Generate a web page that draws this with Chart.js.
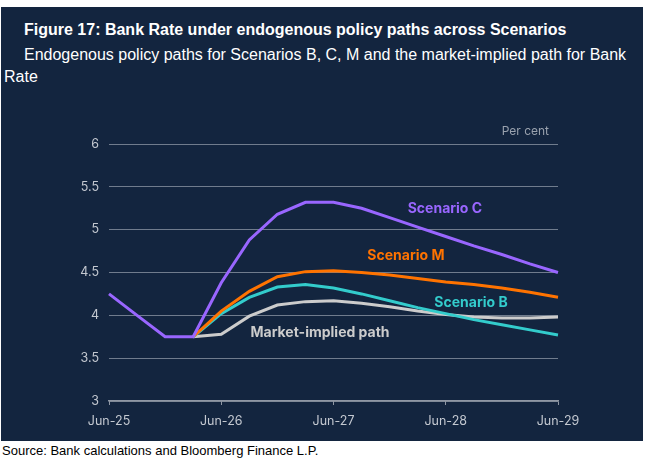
<!DOCTYPE html>
<html>
<head>
<meta charset="utf-8">
<script src="https://cdn.jsdelivr.net/npm/chart.js@4"></script>
<style>
  body { margin: 0; background: #fff; width: 646px; height: 463px; position: relative; overflow: hidden; font-family: "Liberation Sans", Arial, sans-serif; }
  #panel { position: absolute; left: 1px; top: 7px; width: 642px; height: 434px; background: #13253f; }
  #title { position: absolute; left: 24px; top: 21px; color: #fff; font-size: 16px; font-weight: bold; white-space: nowrap; }
  #sub { position: absolute; left: 4px; top: 44px; width: 632px; color: #fff; font-size: 16px; line-height: 22px; text-indent: 20px; }
  #wrap { position: absolute; left: 0; top: 101px; width: 646px; height: 340px; }
  #source { position: absolute; left: 2px; top: 443px; font-size: 13px; color: #000; }
</style>
</head>
<body>
<div id="panel"></div>
<div id="title">Figure 17: Bank Rate under endogenous policy paths across Scenarios</div>
<div id="sub">Endogenous policy paths for Scenarios B, C, M and the market-implied path for Bank Rate</div>
<div id="wrap"><canvas id="chart"></canvas></div>
<div id="source">Source: Bank calculations and Bloomberg Finance L.P.</div>
<script>
const quarters = ['Jun-25','Sep-25','Dec-25','Mar-26','Jun-26','Sep-26','Dec-26','Mar-27','Jun-27',
  'Sep-27','Dec-27','Mar-28','Jun-28','Sep-28','Dec-28','Mar-29','Jun-29'];

const scenarioC = [4.25, 4.00, 3.75, 3.75, 4.38, 4.88, 5.18, 5.32, 5.32, 5.25, 5.14, 5.03, 4.92, 4.81, 4.71, 4.60, 4.50];
const scenarioM = [null, null, null, 3.75, 4.05, 4.28, 4.45, 4.51, 4.52, 4.50, 4.47, 4.43, 4.39, 4.36, 4.32, 4.27, 4.21];
const scenarioB = [null, null, null, 3.75, 4.02, 4.21, 4.33, 4.36, 4.32, 4.25, 4.17, 4.09, 4.02, 3.95, 3.89, 3.83, 3.77];
const marketPath = [null, null, null, 3.75, 3.78, 3.99, 4.12, 4.16, 4.17, 4.14, 4.10, 4.05, 4.01, 3.98, 3.97, 3.97, 3.98];

const yTicks = [3, 3.5, 4, 4.5, 5, 5.5, 6];

const colC = '#9966ff';
const colM = '#ff7300';
const colB = '#33cccc';
const colMkt = '#cccccc';
const tickCol = '#c3c8d0';
const gridCol = 'rgba(190,196,206,0.55)';

// text labels on the lines, anchored at (category index, value)
const lineLabels = [
  { text: 'Scenario C', color: colC, at: [11.97, 5.24] },
  { text: 'Scenario M', color: colM, at: [10.58, 4.69] },
  { text: 'Scenario B', color: colB, at: [12.9, 4.15] },
  { text: 'Market-implied path', color: colMkt, at: [7.52, 3.80] }
];

const labelPlugin = {
  id: 'lineLabels',
  afterDatasetsDraw(chart) {
    const { ctx, scales: { x, y }, chartArea } = chart;
    ctx.save();
    ctx.font = 'bold 14px Inter, "Open Sans", sans-serif';
    ctx.textAlign = 'center';
    ctx.textBaseline = 'middle';
    lineLabels.forEach(l => {
      const px = x.getPixelForValue(0) + (x.getPixelForValue(1) - x.getPixelForValue(0)) * l.at[0];
      ctx.fillStyle = l.color;
      ctx.fillText(l.text, px, y.getPixelForValue(l.at[1]));
    });
    ctx.font = '12px Inter, "Open Sans", sans-serif';
    ctx.fillStyle = '#9aa2ae';
    ctx.textAlign = 'right';
    ctx.fillText('Per cent', chartArea.right - 9, chartArea.top - 13);
    ctx.restore();
  }
};

function ds(label, data, color) {
  return { label, data, borderColor: color, backgroundColor: color, borderWidth: 3, pointRadius: 0, tension: 0, spanGaps: false };
}

new Chart(document.getElementById('chart'), {
  type: 'line',
  data: {
    labels: quarters,
    datasets: [
      ds('Scenario C', scenarioC, colC),
      ds('Scenario M', scenarioM, colM),
      ds('Scenario B', scenarioB, colB),
      ds('Market-implied path', marketPath, colMkt)
    ]
  },
  options: {
    responsive: true,
    maintainAspectRatio: false,
    animation: false,
    layout: { padding: { left: 0, right: 88, top: 43, bottom: 0 } },
    plugins: { legend: { display: false }, tooltip: { enabled: false } },
    scales: {
      x: {
        afterFit: s => { s.height = 40; },
        border: { color: '#8f97a4', width: 1.5 },
        grid: {
          drawOnChartArea: false,
          tickLength: 4,
          tickColor: c => (c.index % 4 === 0 ? '#8f97a4' : 'transparent')
        },
        ticks: {
          autoSkip: false,
          maxRotation: 0,
          color: tickCol,
          font: { family: 'Inter', size: 12.5 },
          padding: 9,
          callback: (v, i) => (i % 4 === 0 ? quarters[i] : '')
        }
      },
      y: {
        min: 3,
        max: 6,
        afterFit: s => { s.width = 109; },
        afterBuildTicks: s => { s.ticks = yTicks.map(v => ({ value: v })); },
        border: { display: false },
        grid: { color: gridCol, drawTicks: false, lineWidth: 1 },
        ticks: {
          color: tickCol,
          font: { family: 'Inter', size: 12.5 },
          padding: 10,
          callback: v => String(v)
        }
      }
    }
  },
  plugins: [labelPlugin]
});
</script>
</body>
</html>
